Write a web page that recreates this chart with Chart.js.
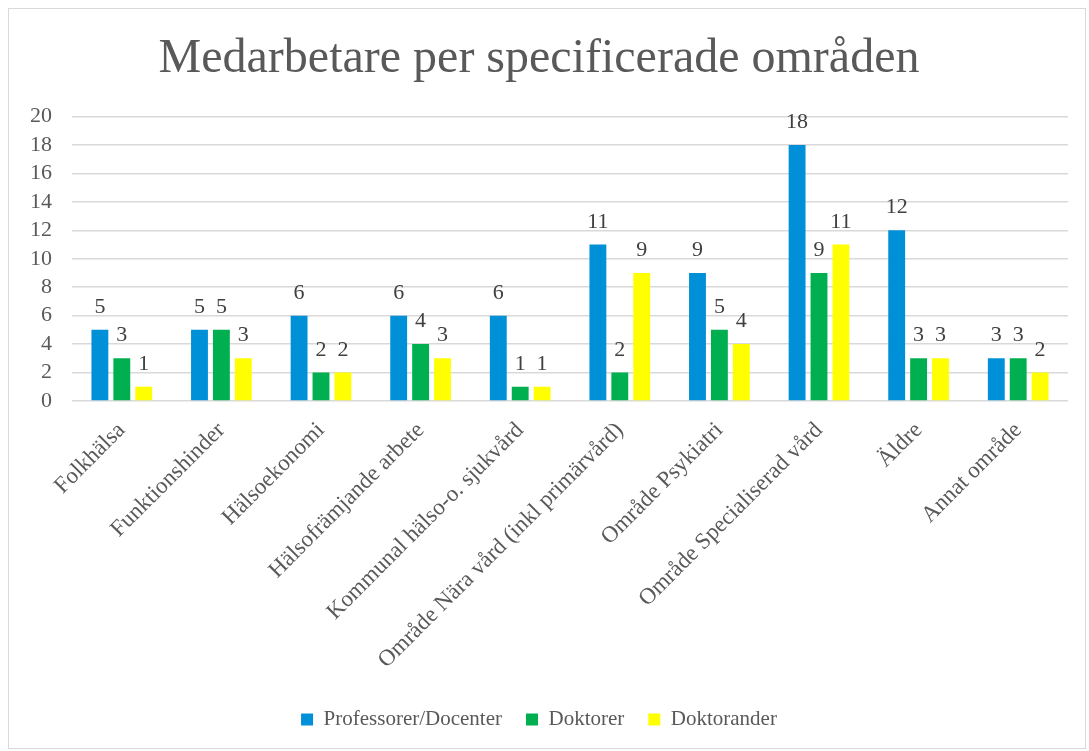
<!DOCTYPE html>
<html>
<head>
<meta charset="utf-8">
<script src="https://cdn.jsdelivr.net/npm/chart.js@4"></script>
<style>
  body { margin: 0; background: #fff; }
  #box {
    position: absolute; left: 8px; top: 8px;
    width: 1076px; height: 739px;
    border: 1px solid #d9d9d9;
    background: #fff;
  }
</style>
</head>
<body>
<div id="box"><canvas id="chart" width="1076" height="739"></canvas></div>
<script>
const categories = ['Folkhälsa', 'Funktionshinder', 'Hälsoekonomi', 'Hälsofrämjande arbete',
  'Kommunal hälso-o. sjukvård', 'Område Nära vård (inkl primärvård)', 'Område Psykiatri',
  'Område Specialiserad vård', 'Äldre', 'Annat område'];
const professorer = [5, 5, 6, 6, 6, 11, 9, 18, 12, 3];
const doktorer = [3, 5, 2, 4, 1, 2, 5, 9, 3, 3];
const doktorander = [1, 3, 2, 3, 1, 9, 4, 11, 3, 2];

const serif = "'Liberation Serif', 'Times New Roman', serif";

// skriver värdet ovanför varje stapel
const barLabels = {
  id: 'barLabels',
  afterDatasetsDraw(chart) {
    const ctx = chart.ctx;
    ctx.save();
    ctx.font = '22px ' + serif;
    ctx.fillStyle = '#404040';
    ctx.textAlign = 'center';
    ctx.textBaseline = 'alphabetic';
    chart.data.datasets.forEach((ds, i) => {
      chart.getDatasetMeta(i).data.forEach((bar, j) => {
        ctx.fillText(ds.data[j], bar.x, bar.y - 17);
      });
    });
    ctx.restore();
  }
};

new Chart(document.getElementById('chart'), {
  type: 'bar',
  data: {
    labels: categories,
    datasets: [
      { label: 'Professorer/Docenter', data: professorer, backgroundColor: '#0090d8' },
      { label: 'Doktorer', data: doktorer, backgroundColor: '#00b050' },
      { label: 'Doktorander', data: doktorander, backgroundColor: '#ffff00' }
    ]
  },
  options: {
    responsive: false,
    animation: false,
    categoryPercentage: 0.66,
    barPercentage: 0.77,
    layout: { padding: { left: 1, right: 17, top: 0, bottom: 8 } },
    plugins: {
      title: {
        display: true,
        text: 'Medarbetare per specificerade områden',
        color: '#595959',
        font: { family: serif, size: 48, weight: 'normal' },
        padding: { top: 22, bottom: 28 }
      },
      legend: {
        position: 'bottom',
        labels: {
          color: '#595959',
          font: { family: serif, size: 21 },
          boxWidth: 12,
          boxHeight: 12,
          padding: 24
        }
      },
      tooltip: { enabled: false }
    },
    scales: {
      x: {
        grid: { display: false },
        border: { display: false },
        afterFit(scale) {
          scale.height += 3;
        },
        ticks: {
          color: '#595959',
          font: { family: serif, size: 23 },
          minRotation: 45,
          maxRotation: 45,
          autoSkip: false,
          padding: 8
        }
      },
      y: {
        min: 0,
        max: 20,
        border: { display: false },
        grid: { color: '#d9d9d9', lineWidth: 1.5, drawTicks: false },
        ticks: {
          stepSize: 2,
          autoSkip: false,
          color: '#595959',
          font: { family: serif, size: 22 },
          padding: 20
        }
      }
    }
  },
  plugins: [barLabels]
});
</script>
</body>
</html>
